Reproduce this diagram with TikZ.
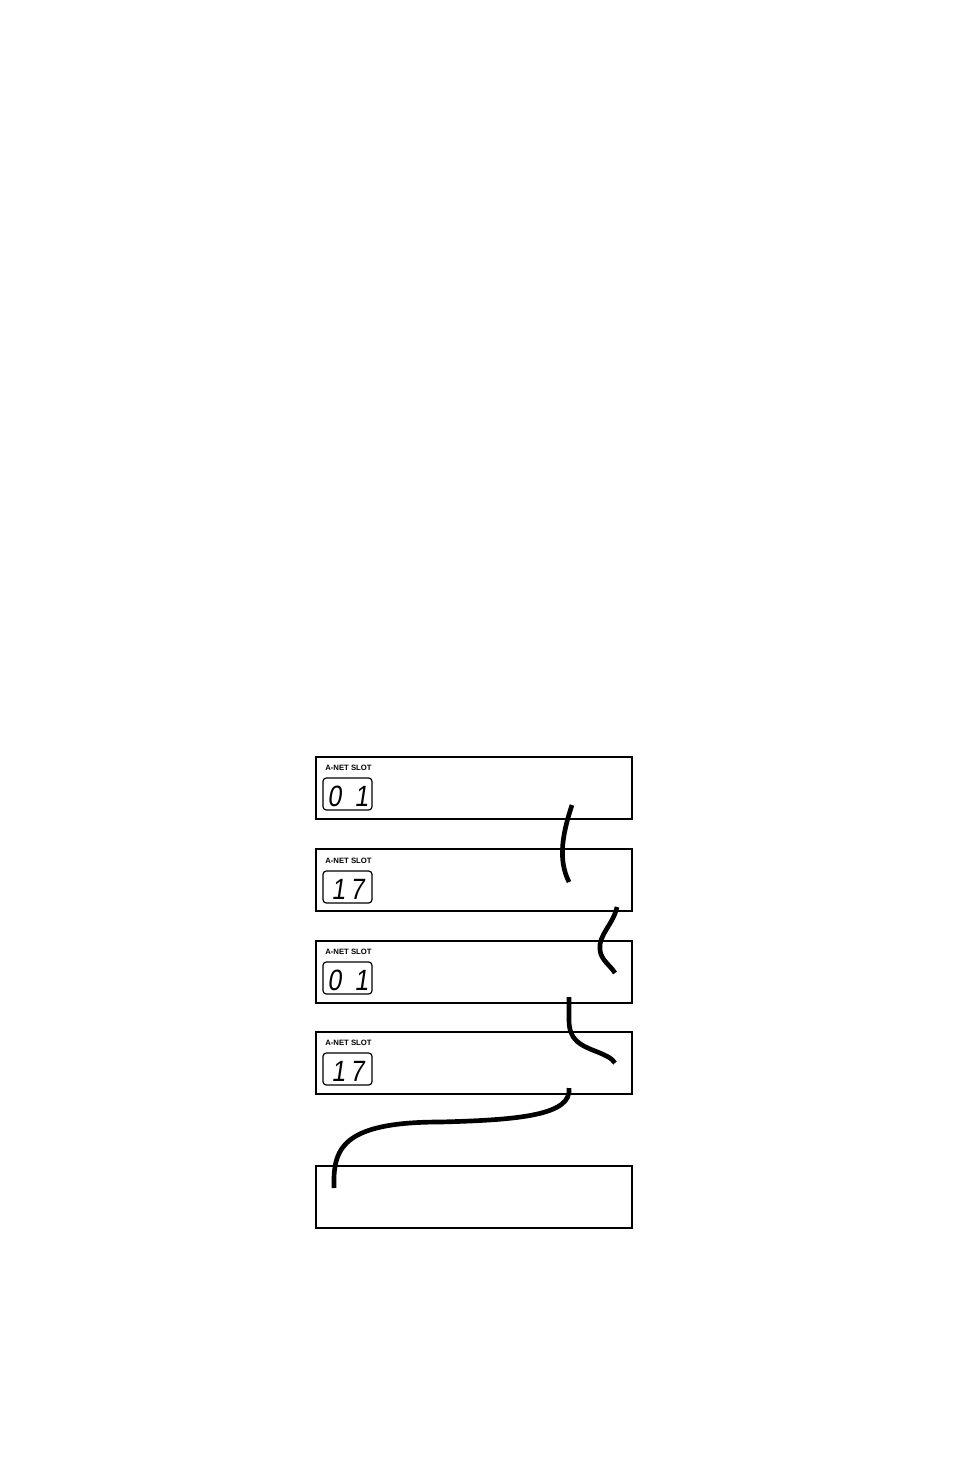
\documentclass[tikz,border=0pt]{standalone}
\usepackage{fontspec}
\newfontfamily\lblfont{Liberation Sans}
\newfontfamily\segfont{Liberation Sans}[FakeSlant=0.15, FakeStretch=0.85]
\tikzset{
  unit/.style={draw=black, line width=1.7pt, minimum width=237pt, minimum height=46.5pt,
    inner sep=0pt, outer sep=0pt, anchor=north west},
  display/.style={draw=black, line width=0.9pt, rounded corners=2.5pt, minimum width=36.75pt,
    minimum height=24pt, inner sep=0pt, outer sep=0pt, anchor=north west},
  slotlabel/.style={font=\lblfont\bfseries\fontsize{5.8pt}{7pt}\selectfont, inner sep=0pt,
    anchor=west},
  digits/.style={font=\segfont\fontsize{22pt}{22pt}\selectfont, inner sep=0pt, anchor=base west},
  cable/.style={line width=3.5pt, black}
}
\begin{document}
\begin{tikzpicture}[x=0.75pt,y=-0.75pt]
\useasboundingbox (0,0) rectangle (954,1474);
% units
\node[unit] (u1) at (316,757) {};
\node[unit] (u2) at (316,849) {};
\node[unit] (u3) at (316,941) {};
\node[unit] (u4) at (316,1032) {};
\node[unit] (u5) at (316,1166) {};
% labels and displays
\node[slotlabel] (l1) at (325,768) {A-NET SLOT};
\node[display] (d1) at (323,778) {};
\node[digits] (n1) at (327,806) {0\hspace{10pt}1};
\node[slotlabel] (l2) at (325,861) {A-NET SLOT};
\node[display] (d2) at (323,871) {};
\node[digits] (n2) at (331,899) {1\hspace{3.5pt}7};
\node[slotlabel] (l3) at (325,952) {A-NET SLOT};
\node[display] (d3) at (323,962) {};
\node[digits] (n3) at (327,990) {0\hspace{10pt}1};
\node[slotlabel] (l4) at (325,1043) {A-NET SLOT};
\node[display] (d4) at (323,1053) {};
\node[digits] (n4) at (331,1081) {1\hspace{3.5pt}7};
% cable end points
\coordinate (c1a) at (572,805);
\coordinate (c1b) at (569,882);
\coordinate (c2a) at (617,907);
\coordinate (c2b) at (615,973);
\coordinate (c3a) at (569,997);
\coordinate (c3b) at (615,1063);
\coordinate (c4a) at (569,1088);
\coordinate (c4b) at (334,1188);
% cables
\draw[cable] (c1a) .. controls (562,835) and (558,860) .. (c1b);
\draw[cable] (c2a) .. controls (613,925) and (598,935) .. (600,950)
  .. controls (601,960) and (610,965) .. (c2b);
\draw[cable] (c3a) -- (569,1020) .. controls (569,1040) and (580,1045) .. (595,1051)
  .. controls (605,1055) and (612,1058) .. (c3b);
\draw[cable] (c4a) .. controls (572,1115) and (520,1120) .. (440,1122)
  .. controls (340,1122) and (333,1150) .. (c4b);
\end{tikzpicture}
\end{document}
